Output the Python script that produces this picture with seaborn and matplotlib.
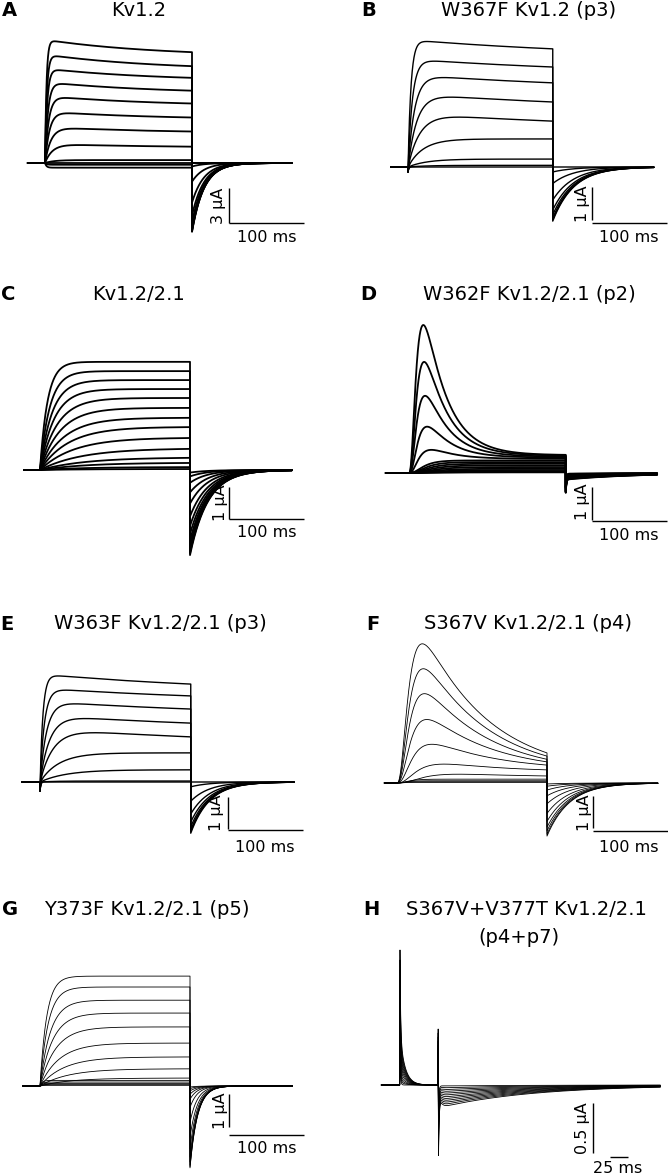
import numpy as np
import pandas as pd
import seaborn as sns
import matplotlib.pyplot as plt

# figure size in pixels (dpi 100)
W, H = 668, 1175

# ---------------------------------------------------------------
# values (current in uA, time in ms)
# end = current at end of pulse, peak = maximum during pulse,
# tau = activation time constant, tail = peak of (inward) tail current
# ---------------------------------------------------------------

# A  Kv1.2
a_end = [9.5, 8.3, 7.3, 6.2, 5.1, 3.9, 2.7, 1.4, 0.25, 0.0, -0.15, -0.4]
a_peak = [10.3, 9.0, 7.8, 6.6, 5.4, 4.1, 2.8, 1.45, 0.25, 0.0, -0.15, -0.4]
a_tau = [2, 2.5, 3, 4, 5, 6, 8, 10, 12, 5, 2, 2]
a_tail = [5.9, 5.85, 5.8, 5.7, 5.5, 5.1, 4.5, 3.4, 1.6, 0.3, 0.0, 0.0]

# B  W367F Kv1.2 (p3)
b_end = [3.58, 3.03, 2.55, 1.97, 1.39, 0.85, 0.24, 0.05, 0.0]
b_peak = [3.72, 3.10, 2.58, 1.99, 1.40, 0.85, 0.24, 0.05, 0.0]
b_tau = [4, 6, 9, 12, 16, 20, 25, 25, 25]
b_tail = [1.64, 1.6, 1.55, 1.45, 1.3, 1.0, 0.5, 0.15, 0.0]

# C  Kv1.2/2.1
c_end = [3.38, 3.09, 2.81, 2.53, 2.25, 1.94, 1.63, 1.34, 1.0, 0.66, 0.38, 0.22, 0.09, 0.03]
c_tau = [10, 13, 16, 19, 23, 27, 32, 38, 45, 55, 60, 60, 60, 60]
c_tail = [2.66, 2.6, 2.55, 2.45, 2.35, 2.2, 2.0, 1.75, 1.45, 1.05, 0.7, 0.4, 0.2, 0.08]

# D  W362F Kv1.2/2.1 (p2)
d_peak = [4.48, 3.36, 2.33, 1.39, 0.67, 0.27, 0.16, 0.11, 0.08, 0.06, 0.04, 0.03, 0.02, 0.01]
d_end = [0.55, 0.53, 0.5, 0.47, 0.43, 0.38, 0.33, 0.28, 0.23, 0.18, 0.13, 0.09, 0.05, 0.02]
d_tau = [7, 7.5, 8, 9, 10, 12, 14, 16, 18, 20, 22, 24, 26, 28]
d_tail = [0.2, 0.19, 0.18, 0.17, 0.16, 0.15, 0.13, 0.11, 0.09, 0.07, 0.05, 0.04, 0.03, 0.02]

# E  W363F Kv1.2/2.1 (p3)
e_end = [3.06, 2.69, 2.28, 1.84, 1.41, 0.91, 0.38, 0.03, 0.0]
e_peak = [3.25, 2.78, 2.33, 1.86, 1.42, 0.91, 0.38, 0.03, 0.0]
e_tau = [4, 6, 9, 13, 18, 25, 35, 20, 20]
e_tail = [1.6, 1.55, 1.5, 1.4, 1.25, 1.0, 0.6, 0.15, 0.0]

# F  S367V Kv1.2/2.1 (p4)
f_peak = [4.34, 3.56, 2.78, 1.97, 1.19, 0.56, 0.25, 0.12, 0.07, 0.04, 0.02]
f_end = [0.94, 0.84, 0.74, 0.66, 0.56, 0.41, 0.22, 0.12, 0.07, 0.04, 0.02]
f_tau = [10, 10.5, 11, 12, 14, 18, 24, 10, 8, 6, 5]
f_tail = [1.66, 1.6, 1.5, 1.38, 1.2, 0.95, 0.65, 0.4, 0.22, 0.1, 0.03]

# G  Y373F Kv1.2/2.1 (p5)
g_end = [3.33, 3.0, 2.6, 2.21, 1.79, 1.30, 0.88, 0.52, 0.24, 0.17, 0.12, 0.08, 0.05, 0.02]
g_tau = [9, 11, 14, 17, 21, 26, 32, 38, 40, 3, 3, 3, 3, 3]
g_tail = [2.48, 2.45, 2.4, 2.3, 2.15, 1.9, 1.55, 1.1, 0.65, 0.4, 0.25, 0.15, 0.08, 0.03]

# H  S367V+V377T Kv1.2/2.1 (p4+p7) - only gating transients
h_on_spike = [1.35, 1.25, 1.15, 1.05, 0.95, 0.85, 0.75, 0.65, 0.55, 0.45, 0.35, 0.25]
h_on_slow = [0.5, 0.45, 0.4, 0.35, 0.3, 0.25, 0.2, 0.15, 0.1, 0.06, 0.03, 0.0]
h_off_up = [0.56, 0.52, 0.48, 0.44, 0.4, 0.36, 0.32, 0.28, 0.24, 0.2, 0.16, 0.12]
h_off_down = [0.67, 0.62, 0.57, 0.52, 0.47, 0.42, 0.37, 0.32, 0.27, 0.22, 0.17, 0.12]
h_tail = [0.23, 0.21, 0.19, 0.17, 0.15, 0.13, 0.11, 0.09, 0.07, 0.05, 0.03, 0.01]


def sweeps(t_pre, t_post, pulse, end, peak, tau, tail, tau_h=200, tau_tail=20,
           n=1, cap_on=0.0, cap_off=0.0, dt=0.2):
    """long table of current sweeps built from the values above"""
    frames = []
    t1 = np.arange(t_pre, 0, dt)
    t2 = np.linspace(0, pulse, int(round(pulse / dt)) + 1)
    t3 = np.arange(pulse, t_post, dt)
    for k, (e, p, tm, tl) in enumerate(zip(end, peak, tau, tail)):
        m = (1 - np.exp(-t2 / tm)) ** n
        m = m / m[-1]
        g = (np.exp(-t2 / tau_h) - np.exp(-pulse / tau_h)) / (1 - np.exp(-pulse / tau_h))
        base = e * m
        shape = m * g
        amp = 0.0
        if p > e:
            j = np.argmax(shape)
            amp = (p - base[j]) / shape[j]
        i2 = base + amp * shape - cap_on * np.exp(-t2 / 1.0)
        s = t3 - pulse
        i3 = -tl * np.exp(-s / tau_tail) - cap_off * np.exp(-s / 0.8)
        t = np.concatenate([t1, t2, t3])
        cur = np.concatenate([np.zeros_like(t1), i2, i3])
        frames.append(pd.DataFrame({'t': t, 'I': cur, 'sweep': k}))
    return pd.concat(frames, ignore_index=True)


def gating_sweeps(t_pre, t_post, pulse, dt=0.5):
    frames = []
    t1 = np.arange(t_pre, 0, dt)
    t2 = np.arange(0, pulse, dt)
    t3 = np.arange(pulse, t_post, dt)
    s = t3 - pulse
    for k in range(len(h_on_spike)):
        sp, sl = h_on_spike[k], h_on_slow[k]
        i2 = (sp - sl) * np.exp(-t2 / 0.8) + sl * np.exp(-t2 / 7.0)
        i3 = (-h_off_down[k] * np.exp(-(s - dt) / 1.0) * (s >= dt)
              - h_tail[k] * (1 - np.exp(-s / 3.0)) * np.exp(-s / 130.0))
        i3[0] = h_off_up[k]
        t = np.concatenate([t1, t2, t3])
        cur = np.concatenate([np.zeros_like(t1), i2, i3])
        frames.append(pd.DataFrame({'t': t, 'I': cur, 'sweep': k}))
    return pd.concat(frames, ignore_index=True)


sns.set_style('white')
plt.rcParams['font.family'] = ['DejaVu Sans']
plt.rcParams['text.color'] = 'black'

fig = plt.figure(figsize=(W / 100, H / 100), dpi=100)


def panel(df, t0_px, base_px, px_ms, px_ua, lw, vbar, hbar, v_len, h_len):
    # one transparent axes over the whole figure, scaled so that data -> pixels
    ax = fig.add_axes([0, 0, 1, 1])
    sns.lineplot(data=df, x='t', y='I', units='sweep', estimator=None, sort=False,
                 color='black', linewidth=lw, legend=False, ax=ax)
    # scale bars
    vx = (vbar[0] - t0_px) / px_ms
    vy = (base_px - vbar[1]) / px_ua
    ax.plot([vx, vx], [vy, vy + v_len], color='black', lw=1.0, solid_capstyle='butt')
    hx = (hbar[0] - t0_px) / px_ms
    hy = (base_px - hbar[1]) / px_ua
    ax.plot([hx, hx + h_len], [hy, hy], color='black', lw=1.0, solid_capstyle='butt')
    ax.set_xlim(-t0_px / px_ms, (W - t0_px) / px_ms)
    ax.set_ylim((base_px - H) / px_ua, base_px / px_ua)
    ax.set_axis_off()
    ax.patch.set_visible(False)
    return ax


panel(sweeps(-23, 329, 196, a_end, a_peak, a_tau, a_tail, tau_h=150, tau_tail=16),
      45, 163, 0.75, 35 / 3, 1.3, (229, 223), (229, 223), 3, 100)
panel(sweeps(-23, 328, 193, b_end, b_peak, b_tau, b_tail, tau_h=300, tau_tail=28, cap_on=0.15),
      408, 167, 0.75, 33, 1.0, (592, 220), (592, 223), 1, 100)
panel(sweeps(-21, 336, 200, c_end, c_end, c_tau, c_tail, tau_tail=24),
      40, 470, 0.75, 32, 1.3, (229, 519), (229, 519), 1, 100)
panel(sweeps(-31, 331, 209, d_end, d_peak, d_tau, d_tail, tau_h=30, tau_tail=90, n=3, cap_off=0.4),
      409, 473, 0.75, 33, 1.3, (592, 520), (592, 521), 1, 100)
panel(sweeps(-24, 339, 201, e_end, e_peak, e_tau, e_tail, tau_h=300, tau_tail=25, cap_on=0.28),
      40, 782, 0.75, 32, 1.0, (228, 829), (228, 830), 1, 100)
panel(sweeps(-17, 348, 200, f_end, f_peak, f_tau, f_tail, tau_h=90, tau_tail=30, n=3),
      397, 783, 0.75, 32, 0.6, (593, 828), (593, 831), 1, 100)
panel(sweeps(-23, 337, 200, g_end, g_end, g_tau, g_tail, tau_tail=10),
      40, 1086, 0.75, 33, 0.6, (229, 1127), (229, 1135), 1, 100)
panel(gating_sweeps(-26, 362, 53),
      400, 1085, 0.72, 100, 0.6, (593, 1153), (610, 1157), 0.5, 25)


def ftext(x, y, s, **kw):
    fig.text(x / W, 1 - y / H, s, **kw)


# panel letters and titles
letters = [('A', 2, 16), ('B', 361, 16), ('C', 1, 300), ('D', 360, 300),
           ('E', 0, 630), ('F', 366, 630), ('G', 2, 915), ('H', 363, 915)]
for s, x, y in letters:
    ftext(x, y, s, fontsize=14, fontweight='bold', ha='left', va='baseline')

titles = [('Kv1.2', 139, 16), ('W367F Kv1.2 (p3)', 529, 16),
          ('Kv1.2/2.1', 138, 300), ('W362F Kv1.2/2.1 (p2)', 529, 300),
          ('W363F Kv1.2/2.1 (p3)', 160, 629), ('S367V Kv1.2/2.1 (p4)', 528, 629),
          ('Y373F Kv1.2/2.1 (p5)', 147, 915), ('S367V+V377T Kv1.2/2.1', 526, 915),
          ('(p4+p7)', 519, 943)]
for s, x, y in titles:
    ftext(x, y, s, fontsize=14, ha='center', va='baseline')

# scale bar labels
amp_labels = [('3 µA', 218, 206), ('1 µA', 583, 204), ('1 µA', 220, 503), ('1 µA', 583, 502),
              ('1 µA', 217, 813), ('1 µA', 584, 813), ('1 µA', 220, 1111), ('0.5 µA', 582, 1128)]
for s, x, y in amp_labels:
    ftext(x, y, s, fontsize=11.5, rotation=90, ha='center', va='center')

time_labels = [('100 ms', 267, 242), ('100 ms', 629, 242), ('100 ms', 267, 537),
               ('100 ms', 629, 540), ('100 ms', 265, 852), ('100 ms', 629, 852),
               ('100 ms', 267, 1153), ('25 ms', 618, 1173)]
for s, x, y in time_labels:
    ftext(x, y, s, fontsize=11.5, ha='center', va='baseline')

fig.savefig('out.png', dpi=100)
plt.close(fig)
